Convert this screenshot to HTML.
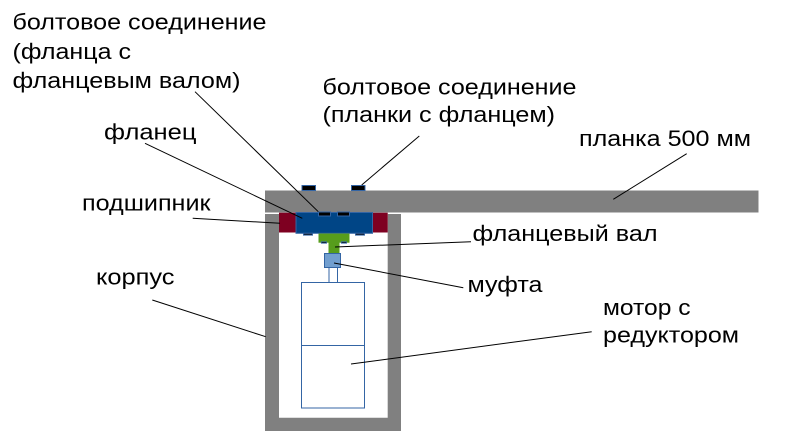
<!DOCTYPE html>
<html>
<head>
<meta charset="utf-8">
<style>
  html,body{margin:0;padding:0;background:#fff;}
  svg{display:block;}
  text{font-family:"Liberation Sans","DejaVu Sans",sans-serif;font-size:22px;fill:#000;}
</style>
</head>
<body>
<svg width="807" height="431" viewBox="0 0 807 431" xmlns="http://www.w3.org/2000/svg">
  <!-- housing (U shape) -->
  <path d="M265 214 H279 V417.7 H387.7 V214 H401 V431 H265 Z" fill="#808080"/>
  <!-- plank -->
  <rect x="265" y="190.5" width="493.5" height="22" fill="#808080"/>
  <!-- top bolts on plank -->
  <rect x="302" y="185.5" width="13.5" height="5" fill="#000" stroke="#3465a4" stroke-width="1"/>
  <rect x="351.5" y="185.5" width="13.5" height="5" fill="#000" stroke="#3465a4" stroke-width="1"/>
  <!-- bearings -->
  <rect x="279" y="212.7" width="17" height="19.8" fill="#7e0021"/>
  <rect x="372.5" y="212.7" width="15.2" height="19.8" fill="#7e0021"/>
  <!-- flange -->
  <rect x="296" y="212.5" width="76.5" height="20.8" fill="#004586" stroke="#3465a4" stroke-width="1"/>
  <!-- flange bolts -->
  <rect x="318.5" y="212" width="12" height="4" fill="#000" stroke="#3465a4" stroke-width="1"/>
  <rect x="337.5" y="212" width="12" height="4" fill="#000" stroke="#3465a4" stroke-width="1"/>
  <!-- under bolts -->
  <rect x="303.5" y="233.3" width="9" height="1.8" fill="#000" stroke="#3465a4" stroke-width="1"/>
  <rect x="355.5" y="233.3" width="9" height="1.8" fill="#000" stroke="#3465a4" stroke-width="1"/>
  <!-- green flanged shaft -->
  <rect x="318.5" y="233.5" width="31" height="9.2" fill="#579d1c"/>
  <rect x="328.5" y="242.5" width="11" height="11" fill="#579d1c"/>
  <rect x="321.3" y="241.8" width="5.3" height="1.4" fill="#000" stroke="#3465a4" stroke-width="0.8"/>
  <rect x="341.3" y="241.8" width="5.3" height="1.4" fill="#000" stroke="#3465a4" stroke-width="0.8"/>
  <!-- coupling -->
  <rect x="324.5" y="253.5" width="16" height="14" fill="#729fcf" stroke="#3465a4" stroke-width="1"/>
  <!-- motor shaft -->
  <line x1="329" y1="267.5" x2="329" y2="282.5" stroke="#3465a4" stroke-width="1"/>
  <line x1="337.5" y1="267.5" x2="337.5" y2="282.5" stroke="#3465a4" stroke-width="1"/>
  <!-- motor -->
  <rect x="301.5" y="282.5" width="63" height="125.5" fill="#fff" stroke="#3465a4" stroke-width="1"/>
  <line x1="301.5" y1="345.5" x2="364.5" y2="345.5" stroke="#3465a4" stroke-width="1"/>

  <!-- leader lines -->
  <g stroke="#000" stroke-width="1" fill="none">
    <line x1="195" y1="91.7" x2="318.3" y2="211.7"/>
    <line x1="419.3" y1="136" x2="361.7" y2="185"/>
    <line x1="686.7" y1="153.7" x2="613.3" y2="199.3"/>
    <line x1="145" y1="143.3" x2="302.3" y2="218.3"/>
    <line x1="192.7" y1="218.3" x2="280" y2="223.3"/>
    <line x1="152.3" y1="300" x2="265.7" y2="336.7"/>
    <line x1="471" y1="241.7" x2="335" y2="247"/>
    <line x1="463.3" y1="287.7" x2="334" y2="263"/>
    <line x1="591.7" y1="331.7" x2="351" y2="364"/>
  </g>

  <!-- labels -->
  <text x="12.5" y="29.3" textLength="254" lengthAdjust="spacingAndGlyphs">болтовое соединение</text>
  <text x="12.5" y="59" textLength="118.5" lengthAdjust="spacingAndGlyphs">(фланца с</text>
  <text x="12.5" y="88" textLength="228" lengthAdjust="spacingAndGlyphs">фланцевым валом)</text>

  <text x="322.5" y="94.3" textLength="254" lengthAdjust="spacingAndGlyphs">болтовое соединение</text>
  <text x="322.5" y="122" textLength="232.5" lengthAdjust="spacingAndGlyphs">(планки с фланцем)</text>

  <text x="579" y="146" textLength="172" lengthAdjust="spacingAndGlyphs">планка 500 мм</text>

  <text x="104" y="139.5" textLength="92.5" lengthAdjust="spacingAndGlyphs">фланец</text>
  <text x="82" y="210.7" textLength="128.5" lengthAdjust="spacingAndGlyphs">подшипник</text>
  <text x="96" y="284.3" textLength="78.5" lengthAdjust="spacingAndGlyphs">корпус</text>

  <text x="472.5" y="241" textLength="185" lengthAdjust="spacingAndGlyphs">фланцевый вал</text>
  <text x="467.5" y="292" textLength="75" lengthAdjust="spacingAndGlyphs">муфта</text>
  <text x="603" y="315" textLength="87.5" lengthAdjust="spacingAndGlyphs">мотор с</text>
  <text x="603" y="342.7" textLength="136" lengthAdjust="spacingAndGlyphs">редуктором</text>
</svg>
</body>
</html>
